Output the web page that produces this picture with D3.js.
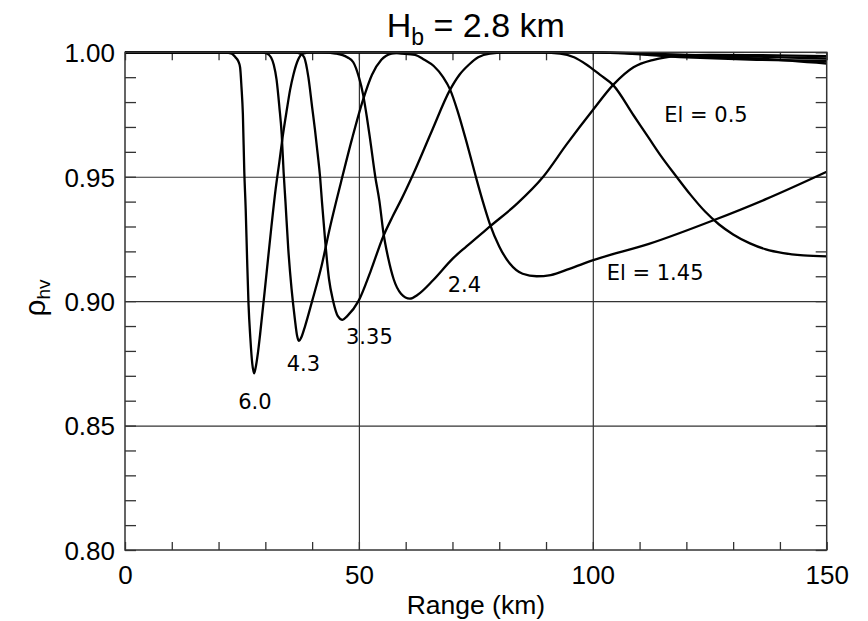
<!DOCTYPE html>
<html><head><meta charset="utf-8">
<script src="https://cdn.jsdelivr.net/npm/d3@7/dist/d3.min.js"></script>
<style>body{margin:0;background:#fff}</style>
</head><body><svg id="c" width="868" height="621"></svg>
<script>
// ---- data (range km, rho_hv) ----
const el60 = [[0,1],[21,1],[22.8,0.9995],[23.6,0.998],[24.2,0.9965],[24.6,0.994],[24.9,0.986],[25.2,0.975],[25.5,0.952],[25.8,0.937],[26.1,0.917],[26.4,0.899],[26.8,0.885],[27.2,0.875],[27.6,0.871],[27.9,0.873],[28.4,0.879],[28.9,0.887],[30.3,0.912],[31.3,0.930],[32.2,0.945],[33.0,0.956],[33.7,0.966],[34.6,0.977],[35.3,0.985],[36.0,0.991],[37.0,0.997],[38.0,0.9995],[40,1],[100,1],[120,0.9985],[135,0.9975],[150,0.9955]];
const el43 = [[0,1],[29,1],[30.3,0.9995],[31.2,0.998],[31.8,0.995],[32.4,0.989],[33.0,0.978],[33.5,0.967],[33.9,0.952],[34.3,0.94],[34.9,0.921],[35.6,0.905],[36.3,0.893],[36.8,0.886],[37.2,0.884],[37.7,0.8855],[38.5,0.890],[40.0,0.900],[42.0,0.914],[43.8,0.9295],[46.2,0.948],[48.5,0.965],[50.9,0.981],[52.8,0.991],[54.8,0.997],[57,0.9995],[60,1],[100,1],[120,0.998],[135,0.997],[150,0.9965]];
const el335 = [[0,1],[36,1],[37.5,0.9995],[38.3,0.998],[39.2,0.99],[40.0,0.978],[40.6,0.969],[41.2,0.959],[41.7,0.95],[42.1,0.94],[42.8,0.924],[43.6,0.909],[44.5,0.900],[45.5,0.894],[46.5,0.8925],[47.5,0.894],[49.9,0.900],[52.5,0.912],[55.2,0.926],[57.2,0.934],[59.1,0.941],[61.6,0.951],[65.5,0.968],[69.5,0.985],[71.5,0.991],[73.5,0.995],[75.5,0.998],[78,0.9995],[82,1],[100,1],[120,0.999],[150,0.9975]];
const el24 = [[0,1],[42,1],[45,0.9995],[47.5,0.998],[48.8,0.996],[50,0.99],[50.9,0.983],[51.7,0.974],[52.4,0.965],[53.5,0.95],[54.4,0.94],[55.2,0.928],[56.3,0.917],[57.4,0.909],[59,0.903],[60.9,0.901],[62.5,0.9025],[65.9,0.9085],[70,0.917],[73,0.922],[78,0.930],[83.7,0.939],[89.4,0.95],[94.4,0.963],[100.1,0.977],[104.4,0.987],[108.7,0.994],[113,0.997],[118,0.9985],[125,0.999],[150,0.9985]];
const el145 = [[0,1],[55,1],[59,0.9995],[62,0.999],[64,0.997],[66,0.9945],[68,0.99],[69.5,0.985],[71,0.977],[73,0.964],[75,0.95],[76.5,0.94],[78,0.931],[80,0.922],[82.3,0.915],[85,0.911],[88,0.910],[91,0.9105],[95,0.913],[100.1,0.9165],[112,0.923],[125.8,0.9325],[137,0.941],[150,0.952]];
const el05 = [[0,1],[88,1],[93,0.9995],[96,0.998],[98.7,0.995],[101.5,0.991],[104.4,0.9867],[108.7,0.9747],[112,0.9655],[114.4,0.9588],[117.9,0.9500],[121,0.9425],[124,0.9360],[127,0.9308],[130,0.9268],[133.6,0.9232],[137,0.9208],[140.7,0.9193],[145,0.9184],[150,0.918]];
const seriesList = [el60, el43, el335, el24, el145, el05];

const labelTexts = ["6.0","4.3","3.35","2.4","El = 0.5","El = 1.45"];
const labelRanges = [24.2, 34.57, 47.24, 68.98, 115.28, 102.97];
const labelRhos = [0.8566, 0.8721, 0.8829, 0.9036, 0.9721, 0.9086];

const xMajorTicks = [0, 50, 100, 150];
const xMinorTicks = [0,10,20,30,40,50,60,70,80,90,100,110,120,130,140,150];
const yMajorTicks = [0.80, 0.85, 0.90, 0.95, 1.00];
const yMinorTicks = [0.80,0.81,0.82,0.83,0.84,0.85,0.86,0.87,0.88,0.89,0.90,0.91,0.92,0.93,0.94,0.95,0.96,0.97,0.98,0.99,1.00];
const xGrid = [50, 100];
const yGrid = [0.85, 0.90, 0.95];

// ---- layout ----
const L = 125, R = 826.7, T = 52.3, B = 550;
const svg = d3.select("#c");
const x = d3.scaleLinear().domain([0,150]).range([L,R]);
const y = d3.scaleLinear().domain([0.80,1.00]).range([B,T]);
const axisFont = "'Liberation Sans', Arial, Helvetica, sans-serif";

// gridlines
const gx = svg.append("g").attr("transform",`translate(0,${B})`)
  .call(d3.axisBottom(x).tickValues(xGrid).tickSize(-(B-T)).tickFormat(""));
const gy = svg.append("g").attr("transform",`translate(${L},0)`)
  .call(d3.axisLeft(y).tickValues(yGrid).tickSize(-(R-L)).tickFormat(""));
[gx,gy].forEach(g=>{g.select(".domain").remove();g.selectAll("line").attr("stroke","#333").attr("stroke-width",1.2);});

// minor ticks (inward)
function minor(g){g.select(".domain").remove();g.selectAll("line").attr("stroke","#333").attr("stroke-width",1.3);}
svg.append("g").attr("transform",`translate(0,${B})`).call(d3.axisBottom(x).tickValues(xMinorTicks).tickSize(-8).tickFormat("")).call(minor);
svg.append("g").attr("transform",`translate(0,${T})`).call(d3.axisTop(x).tickValues(xMinorTicks).tickSize(-8).tickFormat("")).call(minor);
svg.append("g").attr("transform",`translate(${L},0)`).call(d3.axisLeft(y).tickValues(yMinorTicks).tickSize(-11).tickFormat("")).call(minor);
svg.append("g").attr("transform",`translate(${R},0)`).call(d3.axisRight(y).tickValues(yMinorTicks).tickSize(-11).tickFormat("")).call(minor);

// tick labels
const xl = svg.append("g").attr("transform",`translate(0,${B})`)
  .call(d3.axisBottom(x).tickValues(xMajorTicks).tickSize(0).tickPadding(16).tickFormat(d3.format("d")));
const yl = svg.append("g").attr("transform",`translate(${L},0)`)
  .call(d3.axisLeft(y).tickValues(yMajorTicks).tickSize(0).tickPadding(10).tickFormat(d3.format(".2f")));
[xl,yl].forEach(g=>{g.select(".domain").remove();g.selectAll("text").attr("font-family",axisFont).attr("font-size",26).attr("fill","#000");});
yl.selectAll("text").attr("dy","0.36em");

// curves
const line = d3.line().x(d=>x(d[0])).y(d=>y(d[1])).curve(d3.curveMonotoneX);
svg.append("g").selectAll("path").data(seriesList).join("path")
  .attr("d", line).attr("fill","none").attr("stroke","#000").attr("stroke-width",2.3).attr("stroke-linejoin","round");

// frame
svg.append("rect").attr("x",L).attr("y",T).attr("width",R-L).attr("height",B-T)
  .attr("fill","none").attr("stroke","#333").attr("stroke-width",1.5);

// annotations
svg.append("g").selectAll("text").data(labelTexts).join("text")
  .attr("x",(d,i)=>x(labelRanges[i])).attr("y",(d,i)=>y(labelRhos[i]))
  .attr("font-family","'DejaVu Sans', sans-serif").attr("font-size",21).attr("fill","#000")
  .text(d=>d);

// title
const t = svg.append("text").attr("x",(L+R)/2).attr("y",37).attr("text-anchor","middle")
  .attr("font-family",axisFont).attr("font-size",34).attr("fill","#000");
t.append("tspan").text("H");
t.append("tspan").attr("font-size",23).attr("dy",8).text("b");
t.append("tspan").attr("dy",-8).text(" = 2.8 km");

// axis titles
svg.append("text").attr("x",(L+R)/2).attr("y",614).attr("text-anchor","middle")
  .attr("font-family",axisFont).attr("font-size",26.5).attr("fill","#000").text("Range (km)");
const yt = svg.append("text").attr("transform","translate(45,298) rotate(-90)").attr("text-anchor","middle")
  .attr("font-family",axisFont).attr("font-size",30).attr("fill","#000");
yt.append("tspan").text("ρ");
yt.append("tspan").attr("font-size",19).attr("dy",5).text("hv");
</script></body></html>
